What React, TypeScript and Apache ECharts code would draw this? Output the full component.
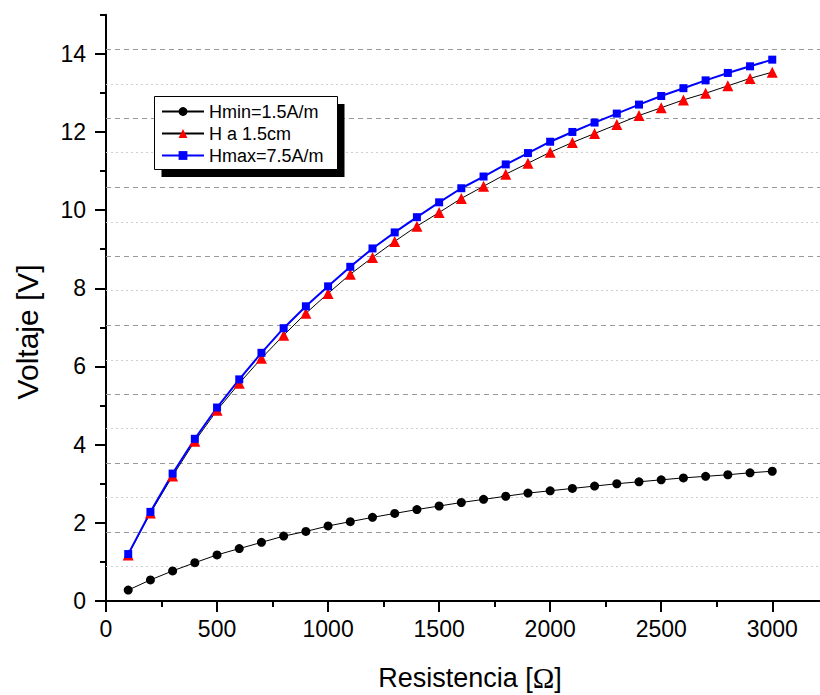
import React, { useEffect, useRef } from "react";
import * as echarts from "echarts";

const resistance = [100, 200, 300, 400, 500, 600, 700, 800, 900, 1000, 1100, 1200, 1300, 1400, 1500, 1600, 1700, 1800, 1900, 2000, 2100, 2200, 2300, 2400, 2500, 2600, 2700, 2800, 2900, 3000];

const hMin = [0.28, 0.54, 0.77, 0.98, 1.18, 1.34, 1.50, 1.66, 1.78, 1.92, 2.03, 2.14, 2.24, 2.34, 2.43, 2.52, 2.60, 2.68, 2.76, 2.82, 2.88, 2.94, 3.00, 3.05, 3.10, 3.15, 3.19, 3.23, 3.28, 3.32];
const hMid = [1.18, 2.25, 3.20, 4.09, 4.88, 5.57, 6.21, 6.80, 7.36, 7.87, 8.36, 8.79, 9.20, 9.59, 9.94, 10.30, 10.61, 10.92, 11.20, 11.48, 11.73, 11.96, 12.19, 12.42, 12.62, 12.82, 12.99, 13.18, 13.37, 13.53];
const hMax = [1.20, 2.28, 3.26, 4.15, 4.95, 5.67, 6.35, 6.98, 7.54, 8.05, 8.55, 9.02, 9.43, 9.82, 10.20, 10.56, 10.86, 11.17, 11.46, 11.75, 12.00, 12.24, 12.47, 12.70, 12.92, 13.12, 13.32, 13.51, 13.68, 13.85];

const seriesNames = ["Hmin=1.5A/m", "H a 1.5cm", "Hmax=7.5A/m"];

const xMajorTicks = [0, 500, 1000, 1500, 2000, 2500, 3000];
const xMinorTicks = [250, 750, 1250, 1750, 2250, 2750];
const yMajorTicks = [0, 2, 4, 6, 8, 10, 12, 14];
const yMinorTicks = [1, 3, 5, 7, 9, 11, 13, 15];

const gridMajor = [1.764, 3.528, 5.292, 7.056, 8.82, 10.584, 12.348, 14.112];
const gridMinor = [0.882, 2.646, 4.41, 6.174, 7.938, 9.702, 11.466, 13.23];

const FONT = "'Liberation Sans', Arial, Helvetica, sans-serif";

function pairs(ys: number[]) {
  return resistance.map((x, i) => [x, ys[i]]);
}

export default function App() {
  const ref = useRef<HTMLDivElement>(null);
  useEffect(() => {
    const chart = echarts.init(ref.current!, null, { renderer: "svg" });
    const markData = [
      ...gridMajor.map((v) => ({ yAxis: v, lineStyle: { color: "#999", type: [5, 4] as any, width: 1 } })),
      ...gridMinor.map((v) => ({ yAxis: v, lineStyle: { color: "#d0d0d0", type: [2, 3] as any, width: 1 } })),
    ];
    const option: any = {
      animation: false,
      backgroundColor: "#fff",
      grid: { left: 106, right: 0, top: 14.7, bottom: 94, containLabel: false, outerBoundsMode: "none" },
      xAxis: [
        {
          type: "value",
          min: 0,
          max: 3215,
          interval: 500,
          name: "{a|Resistencia [}{b|Ω}{a|]}",
          nameLocation: "middle",
          nameGap: 62,
          nameTextStyle: {
            padding: [0, 0, 0, 14],
            rich: {
              a: { fontSize: 27, fontFamily: FONT, color: "#000" },
              b: { fontSize: 29, fontFamily: "'Liberation Serif', 'Times New Roman', serif", color: "#000" },
            },
          },
          axisLine: { show: true, onZero: false, lineStyle: { color: "#000", width: 2 } },
          axisTick: { show: true, inside: false, length: 11, customValues: xMajorTicks, lineStyle: { color: "#000", width: 2 } },
          axisLabel: { customValues: xMajorTicks, formatter: (v: number) => String(v), fontSize: 23, fontFamily: FONT, color: "#000", margin: 16 },
          splitLine: { show: false },
        },
        {
          type: "value",
          min: 0,
          max: 3215,
          position: "bottom",
          axisLine: { show: false },
          axisTick: { show: true, inside: false, length: 6, customValues: xMinorTicks, lineStyle: { color: "#000", width: 2 } },
          axisLabel: { show: false },
          splitLine: { show: false },
        },
      ],
      yAxis: [
        {
          type: "value",
          min: 0,
          max: 15,
          interval: 1,
          name: "Voltaje [V]",
          nameLocation: "middle",
          nameGap: 64,
          nameRotate: 90,
          nameTextStyle: { fontSize: 30, fontFamily: FONT, color: "#000", padding: [0, 48, 0, 0] },
          axisLine: { show: true, onZero: false, lineStyle: { color: "#000", width: 2 } },
          axisTick: { show: true, inside: false, length: 11, customValues: yMajorTicks, lineStyle: { color: "#000", width: 2 } },
          axisLabel: { customValues: yMajorTicks, formatter: (v: number) => String(v), fontSize: 23, fontFamily: FONT, color: "#000", margin: 20 },
          splitLine: { show: false },
        },
        {
          type: "value",
          min: 0,
          max: 15,
          position: "left",
          axisLine: { show: false },
          axisTick: { show: true, inside: false, length: 6, customValues: yMinorTicks, lineStyle: { color: "#000", width: 2 } },
          axisLabel: { show: false },
          splitLine: { show: false },
        },
      ],
      legend: {
        orient: "vertical",
        left: 161,
        top: 100.5,
        padding: 0,
        itemGap: 0,
        itemWidth: 42,
        itemHeight: 11,
        selectedMode: false,
        z: 5,
        data: seriesNames,
        textStyle: { fontSize: 18, lineHeight: 22, fontFamily: FONT, color: "#000" },
      },
      graphic: [
        { type: "rect", z: 3, shape: { x: 161.5, y: 104, width: 183, height: 73 }, style: { fill: "#000" } },
        { type: "rect", z: 3, shape: { x: 154.5, y: 96.5, width: 183, height: 73 }, style: { fill: "#fff", stroke: "#000", lineWidth: 1 } },
      ],
      series: [
        {
          name: seriesNames[0],
          type: "line",
          data: pairs(hMin),
          symbol: "circle",
          symbolSize: 9,
          itemStyle: { color: "#000" },
          lineStyle: { color: "#000", width: 1 },
          markLine: {
            silent: true,
            symbol: ["none", "none"],
            label: { show: false },
            data: markData,
            z: 1,
          },
        },
        {
          name: seriesNames[1],
          type: "line",
          data: pairs(hMid),
          symbol: "triangle",
          symbolSize: 11,
          itemStyle: { color: "#ff0000" },
          lineStyle: { color: "#000", width: 1 },
        },
        {
          name: seriesNames[2],
          type: "line",
          data: pairs(hMax),
          symbol: "rect",
          symbolSize: 8,
          itemStyle: { color: "#0000ff" },
          lineStyle: { color: "#0000ff", width: 2 },
        },
      ],
    };
    chart.setOption(option);
    return () => chart.dispose();
  }, []);
  return (
    <div
      ref={ref}
      style={{ position: "fixed", left: 0, top: 0, width: 820, height: 695, background: "#fff" }}
    />
  );
}
